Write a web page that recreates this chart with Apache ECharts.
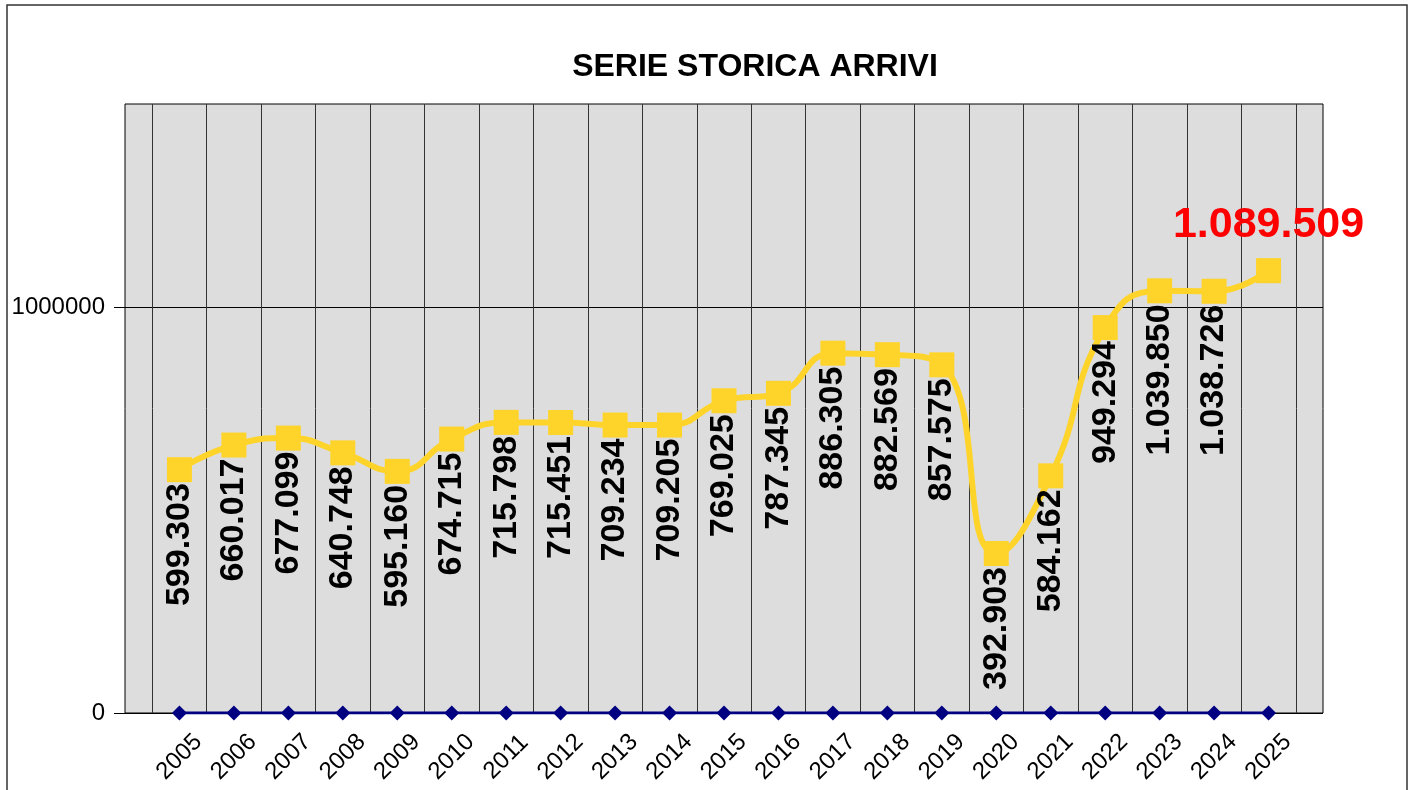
<!DOCTYPE html>
<html>
<head>
<meta charset="utf-8">
<script src="https://cdn.jsdelivr.net/npm/echarts@6/dist/echarts.min.js"></script>
<style>
  html, body { margin: 0; padding: 0; background: #fff; }
  #chart { width: 1414px; height: 790px; }
</style>
</head>
<body>
<div id="chart"></div>
<script>
const years = [2005, 2006, 2007, 2008, 2009, 2010, 2011, 2012, 2013, 2014, 2015,
  2016, 2017, 2018, 2019, 2020, 2021, 2022, 2023, 2024, 2025]
const arrivi = [599303, 660017, 677099, 640748, 595160, 674715, 715798, 715451, 709234, 709205, 769025,
  787345, 886305, 882569, 857575, 392903, 584162, 949294, 1039850, 1038726, 1089509]
const baseline = [0, 0, 0, 0, 0, 0, 0, 0, 0, 0, 0, 0, 0, 0, 0, 0, 0, 0, 0, 0, 0]
const yTicks = [0, 1000000]

const FONT = 'Liberation Sans, Arial, sans-serif'

// 599303 -> "599.303"
const fmtIt = (v) => String(v).replace(/\B(?=(\d{3})+(?!\d))/g, '.')

const chart = echarts.init(document.getElementById('chart'))

let arriviData = []
for (let i = 0; i < years.length; i++) {
  let item = { value: [years[i], arrivi[i]] }
  if (i === years.length - 1) {
    // ultimo anno evidenziato in rosso
    item.label = {
      position: 'top',
      rotate: 0,
      align: 'center',
      verticalAlign: 'bottom',
      distance: 12,
      color: '#FF0000',
      fontSize: 43,
      fontWeight: 'bold'
    }
  }
  arriviData.push(item)
}

let baseData = years.map((y, i) => [y, baseline[i]])

let option = {
  animation: false,
  title: {
    text: 'SERIE STORICA ARRIVI',
    left: 750,
    top: 46,
    textAlign: 'center',
    textStyle: { fontFamily: FONT, fontSize: 32, fontWeight: 'bold', color: '#000' }
  },
  graphic: [
    {
      type: 'rect',
      shape: { x: 7, y: 5, width: 1400, height: 800 },
      style: { fill: 'none', stroke: '#333', lineWidth: 1.5 },
      silent: true,
      z: -10
    }
  ],
  grid: {
    left: 125,
    right: 91,
    top: 104,
    bottom: 77,
    containLabel: false,
    outerBoundsMode: 'none',
    show: true,
    backgroundColor: '#DDDDDD',
    borderColor: '#000',
    borderWidth: 1
  },
  xAxis: {
    type: 'value',
    min: 2004,
    max: 2026,
    interval: 1,
    axisLine: { show: false },
    axisTick: { show: false },
    splitLine: { show: false },
    minorTick: { show: false, splitNumber: 2 },
    minorSplitLine: { show: true, lineStyle: { color: '#333', width: 1 } },
    axisLabel: {
      rotate: 45,
      align: 'center',
      verticalAlign: 'middle',
      margin: 44,
      hideOverlap: false,
      fontFamily: FONT,
      fontSize: 24,
      color: '#000',
      formatter: (v) => (years.indexOf(v) >= 0 ? String(v) : '')
    }
  },
  yAxis: {
    type: 'value',
    min: 0,
    max: 1500000,
    interval: 1000000,
    name: 'ARRIVI',
    nameLocation: 'middle',
    nameRotate: 90,
    nameGap: 93,
    nameTextStyle: { fontFamily: FONT, fontSize: 24, fontWeight: 'bold', color: '#000' },
    axisLine: { show: false },
    axisTick: { show: true, length: 11, customValues: yTicks, lineStyle: { color: '#000' } },
    splitLine: { show: true, lineStyle: { color: '#000', width: 1 } },
    axisLabel: {
      customValues: yTicks,
      margin: 20,
      fontFamily: FONT,
      fontSize: 24,
      color: '#000',
      formatter: (v) => String(v)
    }
  },
  series: [
    {
      name: 'base',
      type: 'line',
      data: baseData,
      symbol: 'diamond',
      symbolSize: 15,
      itemStyle: { color: '#000080' },
      lineStyle: { color: '#000080', width: 3 },
      z: 2
    },
    {
      name: 'ARRIVI',
      type: 'line',
      data: arriviData,
      smooth: 0.5,
      symbol: 'rect',
      symbolSize: 25,
      itemStyle: { color: '#FFD42A' },
      lineStyle: { color: '#FFD42A', width: 6 },
      z: 3,
      label: {
        show: true,
        position: 'bottom',
        distance: 1,
        rotate: 90,
        align: 'right',
        verticalAlign: 'middle',
        fontFamily: FONT,
        fontSize: 34,
        fontWeight: 'bold',
        color: '#000',
        formatter: (p) => fmtIt(p.value[1])
      }
    }
  ]
}

chart.setOption(option)
</script>
</body>
</html>
